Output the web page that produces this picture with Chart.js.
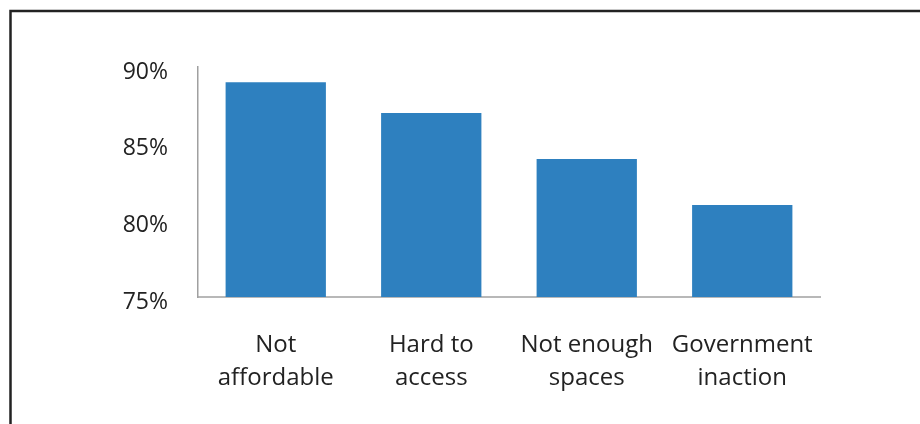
<!DOCTYPE html>
<html>
<head>
<meta charset="utf-8">
<script src="https://cdn.jsdelivr.net/npm/chart.js@4"></script>
<style>
  html, body { margin: 0; padding: 0; background: #fff; }
  #wrap { width: 920px; height: 424px; position: relative; }
</style>
</head>
<body>
<div id="wrap"><canvas id="chart"></canvas></div>
<script>
'use strict';

const categories = [['Not', 'affordable'], ['Hard to', 'access'], ['Not enough', 'spaces'], ['Government', 'inaction']];
const shares = [89, 87, 84, 81];
const yTicks = [75, 80, 85, 90];

// frame around the chart (top and left edges only, like the source picture)
const framePlugin = {
  id: 'frame',
  beforeDraw(chart) {
    const ctx = chart.ctx;
    ctx.save();
    ctx.strokeStyle = '#222';
    ctx.lineWidth = 2.5;
    ctx.beginPath();
    ctx.moveTo(10.5, 424);
    ctx.lineTo(10.5, 11);
    ctx.lineTo(920, 11);
    ctx.stroke();
    ctx.restore();
  }
};

Chart.defaults.font.family = '"Open Sans", sans-serif';
Chart.defaults.color = '#222';

new Chart(document.getElementById('chart'), {
  type: 'bar',
  data: {
    labels: categories,
    datasets: [{
      data: shares,
      backgroundColor: '#2e80bf',
      barPercentage: 0.645,
      categoryPercentage: 1
    }]
  },
  options: {
    responsive: true,
    maintainAspectRatio: false,
    animation: false,
    layout: { padding: { top: 67, right: 100, left: 0, bottom: 0 } },
    plugins: {
      legend: { display: false },
      tooltip: { enabled: false }
    },
    scales: {
      x: {
        grid: { display: false, drawTicks: false },
        border: { color: '#b8b8b8', width: 2 },
        ticks: { font: { size: 24, lineHeight: 1.4 }, padding: 31, maxRotation: 0 },
        afterFit(scale) { scale.height = 127; }
      },
      y: {
        min: yTicks[0],
        max: yTicks[yTicks.length - 1],
        grid: { display: false, drawTicks: false },
        border: { color: '#a0a0a0', width: 1.5 },
        ticks: {
          stepSize: 5,
          font: { size: 23 },
          padding: 30,
          labelOffset: 5,
          callback: v => v + '%'
        },
        afterFit(scale) { scale.width = 198; }
      }
    }
  },
  plugins: [framePlugin]
});
</script>
</body>
</html>
